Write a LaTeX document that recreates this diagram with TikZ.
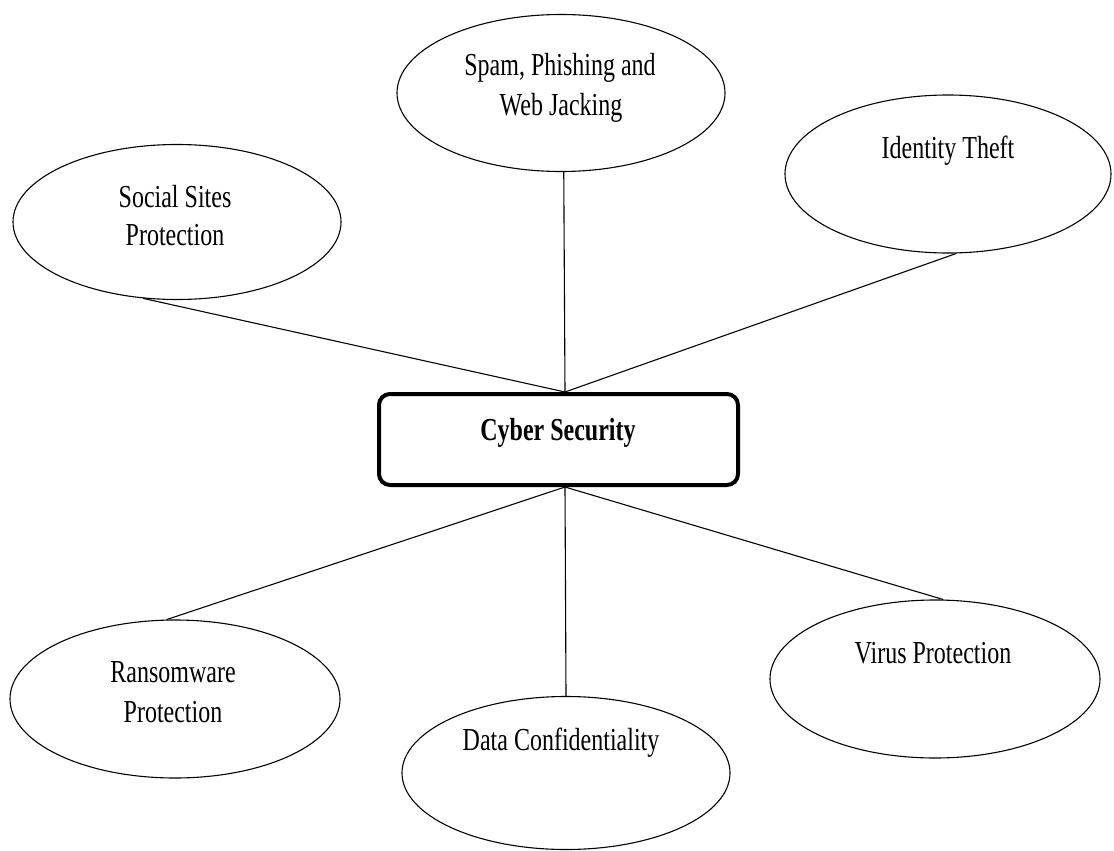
\documentclass[tikz,border=0pt]{standalone}
\usepackage{graphicx}
\usepackage{fontspec}
\setmainfont{Liberation Serif}
\usetikzlibrary{shapes.geometric}
\newcommand{\sq}[1]{\scalebox{0.75}[1]{#1}}
\begin{document}
\begin{tikzpicture}[x=1pt,y=-1pt,
  ell/.style={draw, ellipse, line width=1.1pt, minimum width=328pt, minimum height=156pt, inner sep=0pt},
  hub/.style={draw, line width=4pt, rounded corners=11pt, minimum width=359pt, minimum height=91pt, inner sep=0pt},
  lbl/.style={anchor=base, inner sep=0pt, font=\fontsize{32}{38}\selectfont},
  conn/.style={line width=1.1pt}]
\useasboundingbox (0,0) rectangle (1114,851);
% ellipses
\node[ell, minimum height=157pt] (spam) at (561,93) {};
\node[ell, minimum height=155pt] (soc) at (177,222) {};
\node[ell, minimum width=326pt, minimum height=158pt] (id) at (948,174) {};
\node[ell, minimum width=330pt, minimum height=158pt] (ran) at (175,699) {};
\node[ell, minimum height=153pt] (dat) at (566,773) {};
\node[ell, minimum width=330pt, minimum height=158pt] (vir) at (935,679) {};
% hub
\node[hub] (cs) at (558.5,439.5) {};
\coordinate (ct) at ([xshift=6.5pt]cs.north);
\coordinate (cb) at ([xshift=6.5pt]cs.south);
% labels
\node[lbl] (t1a) at (560,75) {\sq{Spam, Phishing and}};
\node[lbl] (t1b) at (561,115) {\sq{Web Jacking}};
\node[lbl] (t2a) at (175,207) {\sq{Social Sites}};
\node[lbl] (t2b) at (175,245) {\sq{Protection}};
\node[lbl] (t3) at (948,158) {\sq{Identity Theft}};
\node[lbl, font=\fontsize{32}{38}\selectfont\bfseries] (t0) at (558,440) {\sq{Cyber Security}};
\node[lbl] (t4a) at (173,682) {\sq{Ransomware}};
\node[lbl] (t4b) at (173,722) {\sq{Protection}};
\node[lbl] (t5) at (561,750) {\sq{Data Confidentiality}};
\node[lbl] (t6) at (933,663) {\sq{Virus Protection}};
% connectors
\draw[conn] (ct) -- (spam.-88);
\draw[conn] (ct) -- (soc.-114);
\draw[conn] (ct) -- (id.-84);
\draw[conn] (cb) -- (ran.96);
\draw[conn] (cb) -- (dat.north);
\draw[conn] (cb) -- (vir.84);
\end{tikzpicture}
\end{document}
